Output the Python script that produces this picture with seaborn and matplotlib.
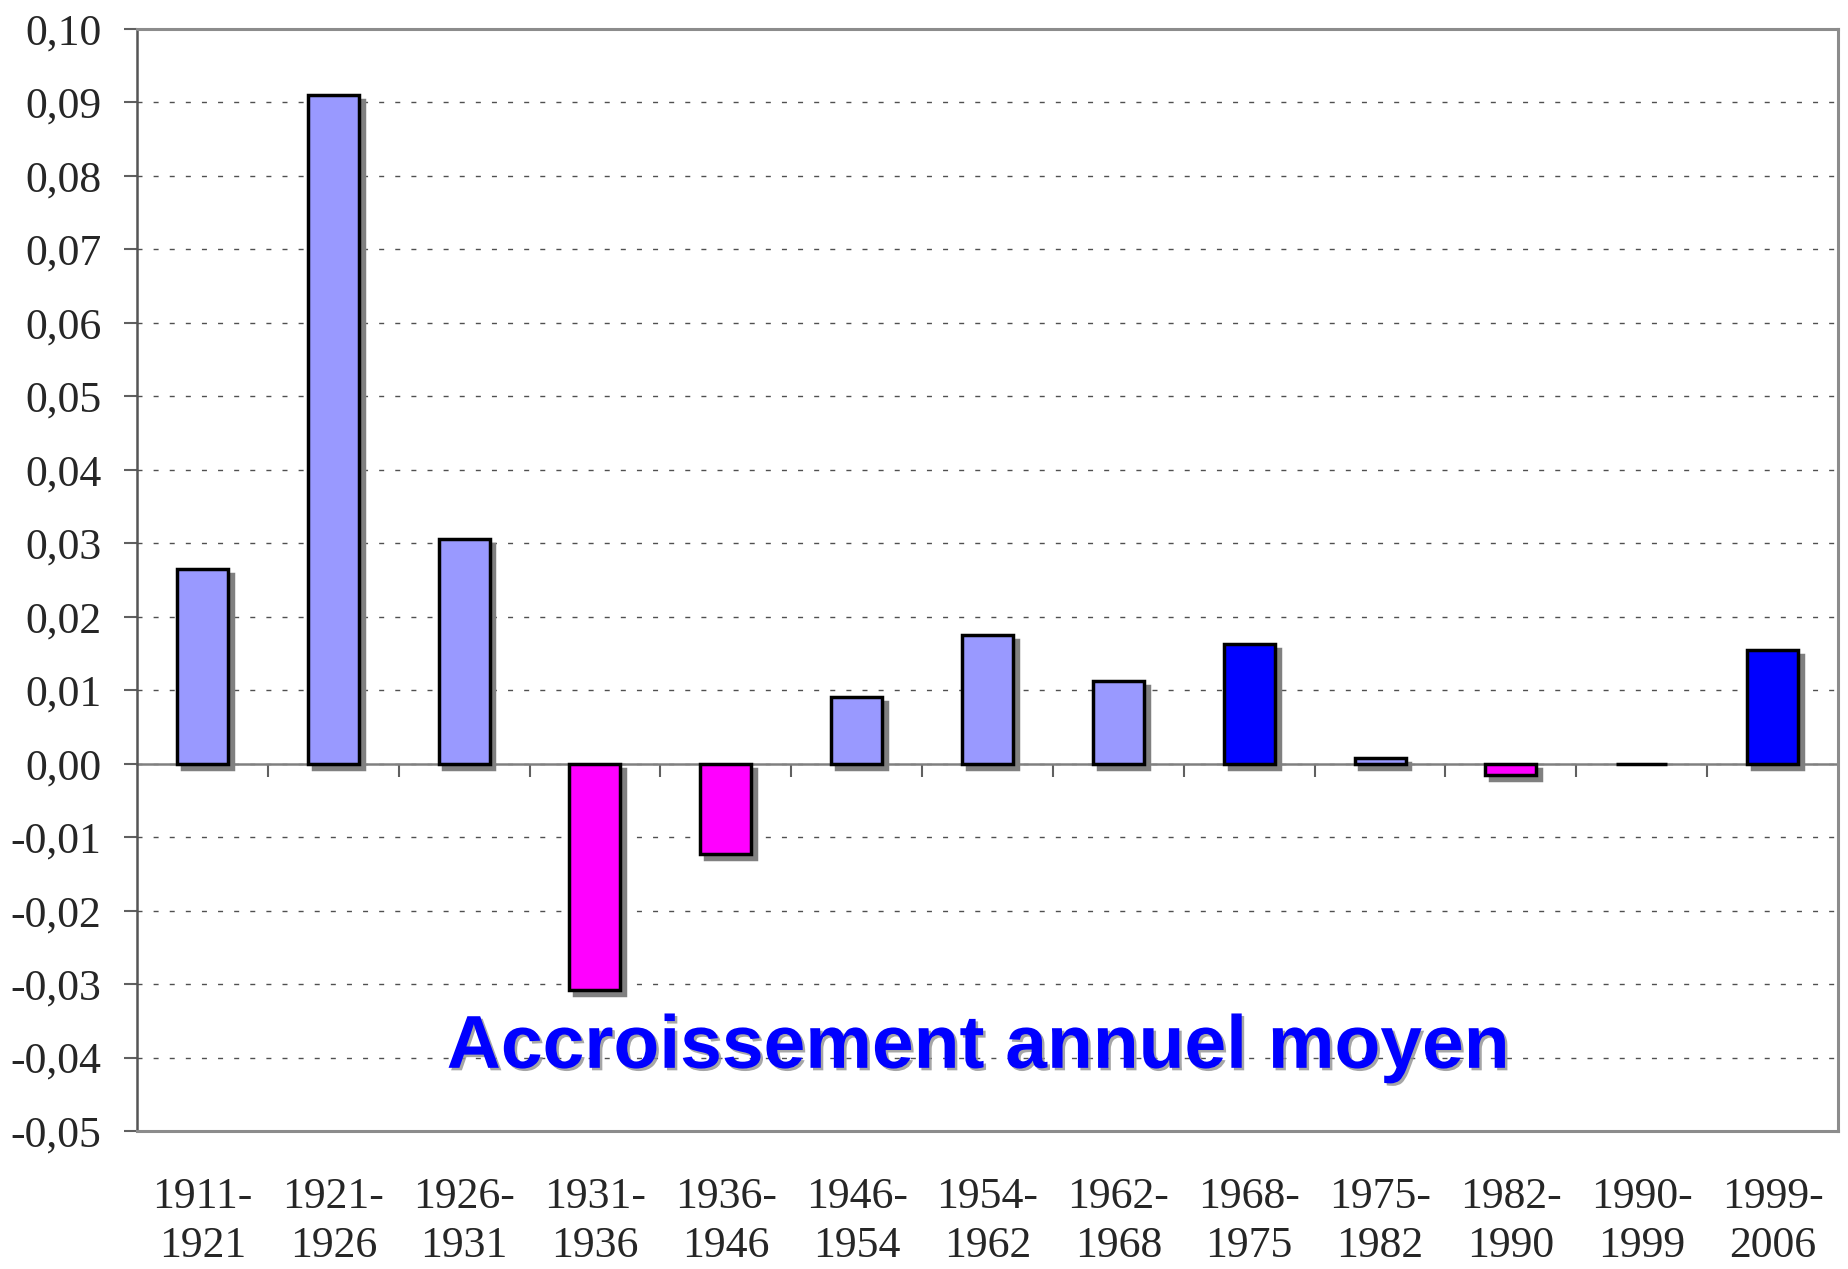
import numpy as np
import seaborn as sns
import matplotlib.pyplot as plt
import matplotlib.patheffects as pe
from matplotlib.ticker import FuncFormatter, MultipleLocator

# data
periods = ["1911-1921", "1921-1926", "1926-1931", "1931-1936", "1936-1946",
           "1946-1954", "1954-1962", "1962-1968", "1968-1975", "1975-1982",
           "1982-1990", "1990-1999", "1999-2006"]
growth = [0.0265, 0.0910, 0.0306, -0.0308, -0.0123, 0.0091, 0.0175,
          0.0112, 0.0163, 0.0008, -0.0015, 0.0, 0.0155]
bar_colors = ["#9999FF", "#9999FF", "#9999FF", "#FF00FF", "#FF00FF",
              "#9999FF", "#9999FF", "#9999FF", "#0000FF", "#9999FF",
              "#FF00FF", "#9999FF", "#0000FF"]
tick_labels = [p.replace("-", "-\n") for p in periods]
title = "Accroissement annuel moyen"

sns.set_style("white")
plt.rcParams['font.family'] = ['Liberation Serif', 'DejaVu Serif']

fig = plt.figure(figsize=(18.48, 12.69), dpi=100)
ax = fig.add_axes([137/1848, 1 - 1131/1269, (1838-137)/1848, (1131-29)/1269])

sns.barplot(x=periods, y=growth, hue=periods, palette=bar_colors, dodge=False,
            width=0.39, legend=False, edgecolor="black", linewidth=2.5,
            saturation=1, ax=ax, zorder=3)

# grey drop shadow like the original spreadsheet chart
for bar in ax.patches:
    if abs(bar.get_height()) > 0:
        bar.set_path_effects([
            pe.SimplePatchShadow(offset=(3.5, -3.5), shadow_rgbFace="#808080",
                                 alpha=1, linewidth=2.5, foreground="#808080"),
            pe.Normal()])

ax.set_xlim(-0.5, len(periods) - 0.5)
ax.set_ylim(-0.05, 0.10)
ax.yaxis.set_major_locator(MultipleLocator(0.01))
ax.yaxis.set_major_formatter(FuncFormatter(
    lambda v, p: f"{round(v, 2) + 0.0:.2f}".replace(".", ",")))
ax.set_xticks(range(len(periods)))
ax.set_xticklabels(tick_labels, fontsize=31.5, linespacing=1.3)
ax.tick_params(axis="x", length=0, pad=33)
ax.tick_params(axis="y", labelsize=31.5, length=9.5, width=1.5,
               color="#606060", direction="out", pad=16, left=True)
ax.set_xlabel("")
ax.set_ylabel("")

ax.yaxis.grid(True, linestyle=(0, (3.6, 8)), linewidth=1, color="#505050")
ax.set_axisbelow(True)

for side in ["top", "right", "bottom"]:
    ax.spines[side].set_color("#8c8c8c")
    ax.spines[side].set_linewidth(2.2)
ax.spines["left"].set_color("#555555")
ax.spines["left"].set_linewidth(1.8)

# zero line with ticks between categories
secax = ax.secondary_xaxis(0.05 / 0.15)
secax.set_xticks(np.arange(0.5, len(periods) - 1, 1))
secax.set_xticklabels([])
secax.tick_params(length=9.5, width=1.5, color="#606060", direction="out")
secax.spines["bottom"].set_color("#808080")
secax.spines["bottom"].set_linewidth(1.8)
secax.set_zorder(1)

ax.text(5.93, -0.0414, title, ha="center", va="baseline", fontsize=54,
        fontweight="bold", family=["Liberation Sans", "DejaVu Sans"],
        color="#0000FF", zorder=5,
        path_effects=[pe.SimplePatchShadow(offset=(1.8, -1.8),
                                           shadow_rgbFace="#909090", alpha=0.8),
                      pe.Normal()])

fig.savefig("out.png", dpi=100)
